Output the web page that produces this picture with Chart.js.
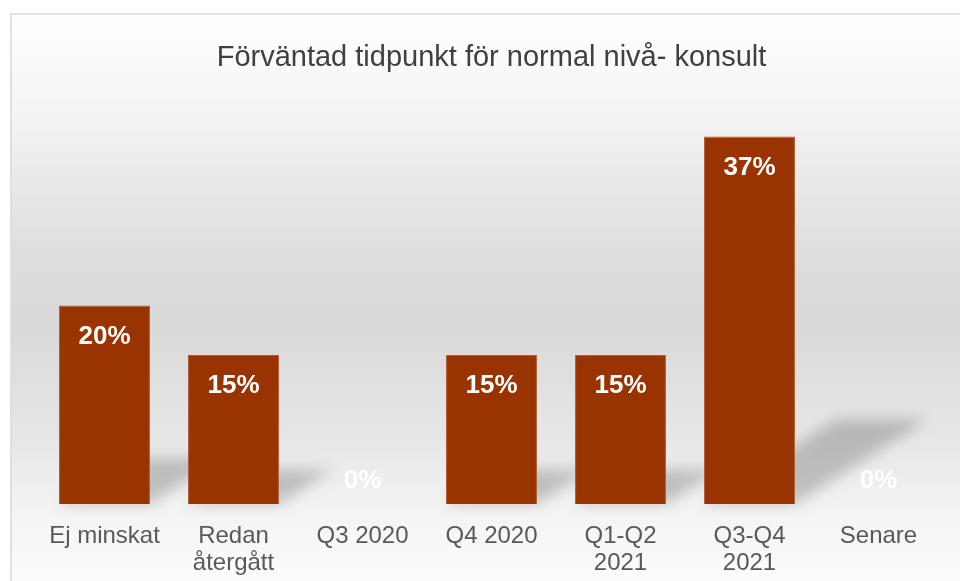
<!DOCTYPE html>
<html lang="sv">
<head>
  <meta charset="UTF-8">
  <title>Förväntad tidpunkt för normal nivå- konsult</title>
  <script src="https://cdn.jsdelivr.net/npm/chart.js"></script>
  <style>
    html, body { margin: 0; padding: 0; background: #fff; }
    #wrap { width: 960px; height: 581px; position: relative; }
  </style>
</head>
<body>
  <div id="wrap"><canvas id="chart"></canvas></div>
  <script>
    const categories = ['Ej minskat', ['Redan', 'återgått'], 'Q3 2020', 'Q4 2020', ['Q1-Q2', '2021'], ['Q3-Q4', '2021'], 'Senare'];
    const shares = [20, 15, 0, 15, 15, 37, 0];
    const titleText = 'Förväntad tidpunkt för normal nivå- konsult';

    // background box, gradient and soft floor shadows behind the bars
    const backdrop = {
      id: 'backdrop',
      beforeDraw(chart) {
        const ctx = chart.ctx;
        const g = ctx.createLinearGradient(0, 14, 0, 581);
        g.addColorStop(0, '#ffffff');
        g.addColorStop(0.15, '#f6f6f6');
        g.addColorStop(0.42, '#dedede');
        g.addColorStop(0.55, '#d9d9d9');
        g.addColorStop(0.74, '#e6e6e6');
        g.addColorStop(0.9, '#f5f5f5');
        g.addColorStop(1, '#fcfcfc');
        ctx.save();
        ctx.fillStyle = g;
        ctx.fillRect(11, 14, 960, 600);
        ctx.strokeStyle = '#d9d9d9';
        ctx.lineWidth = 1.5;
        ctx.beginPath();
        ctx.moveTo(11, 590);
        ctx.lineTo(11, 14);
        ctx.lineTo(970, 14);
        ctx.stroke();
        ctx.restore();
      },
      beforeDatasetsDraw(chart) {
        const ctx = chart.ctx;
        const meta = chart.getDatasetMeta(0);
        ctx.save();
        ctx.filter = 'blur(7px)';
        ctx.fillStyle = 'rgba(0,0,0,0.2)';
        meta.data.forEach(bar => {
          const h = bar.base - bar.y;
          if (h <= 0) return;
          const x0 = bar.x - bar.width / 2, x1 = bar.x + bar.width / 2;
          const dx = h * 0.36, rise = h * 0.23;
          ctx.beginPath();
          ctx.moveTo(x0, bar.base);
          ctx.lineTo(x1, bar.base);
          ctx.lineTo(x1 + dx, bar.base - rise);
          ctx.lineTo(x0 + dx, bar.base - rise);
          ctx.closePath();
          ctx.fill();
        });
        ctx.restore();
      }
    };

    const valueLabels = {
      id: 'valueLabels',
      afterDatasetsDraw(chart) {
        const ctx = chart.ctx;
        const meta = chart.getDatasetMeta(0);
        ctx.save();
        ctx.font = 'bold 26px "Liberation Sans", Arial, sans-serif';
        ctx.fillStyle = '#ffffff';
        ctx.textAlign = 'center';
        ctx.textBaseline = 'middle';
        meta.data.forEach((bar, i) => {
          const v = shares[i];
          const y = v > 0 ? bar.y + 31 : bar.base - 23;
          ctx.fillText(v + '%', bar.x, y);
        });
        ctx.restore();
      }
    };

    new Chart(document.getElementById('chart'), {
      type: 'bar',
      data: {
        labels: categories,
        datasets: [{
          data: shares,
          backgroundColor: '#993300',
          borderColor: '#b05a35',
          borderWidth: 1,
          categoryPercentage: 1,
          barPercentage: 0.705
        }]
      },
      options: {
        responsive: true,
        maintainAspectRatio: false,
        animation: false,
        layout: { padding: { left: 40, right: 17, top: 0, bottom: 0 } },
        plugins: {
          legend: { display: false },
          tooltip: { enabled: false },
          title: {
            display: true,
            text: titleText,
            color: '#404040',
            font: { family: '"Liberation Sans", Arial, sans-serif', size: 29, weight: 'normal', lineHeight: 1.2 },
            padding: { top: 41, bottom: 30 }
          }
        },
        scales: {
          x: {
            grid: { display: false, drawTicks: false, tickLength: 0 },
            border: { display: false },
            ticks: {
              color: '#595959',
              font: { family: '"Liberation Sans", Arial, sans-serif', size: 24, lineHeight: 1.13 },
              padding: 19,
              maxRotation: 0,
              autoSkip: false
            },
            afterFit(scale) { scale.height = 77; }
          },
          y: {
            display: false,
            min: 0,
            max: 40.1
          }
        }
      },
      plugins: [backdrop, valueLabels]
    });
  </script>
</body>
</html>
